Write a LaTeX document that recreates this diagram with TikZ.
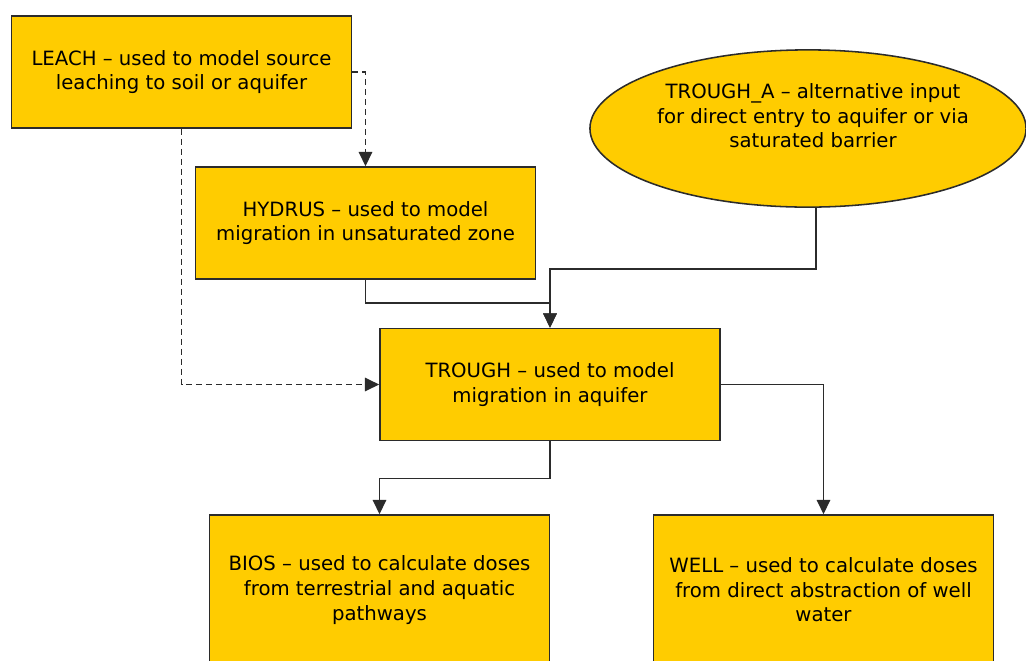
\documentclass[tikz,border=0pt]{standalone}
\usepackage{fontspec}
\setmainfont{DejaVu Sans}
\usetikzlibrary{arrows.meta, positioning, shapes.geometric}
\definecolor{boxyellow}{HTML}{FFCC00}
\definecolor{edgegray}{HTML}{2B2B2B}

\begin{document}
\begin{tikzpicture}[
  x=0.025cm, y=-0.025cm,
  font=\fontsize{14}{17.5}\selectfont,
  >={Triangle[length=3.6mm, width=3.4mm]},
  box/.style={draw=edgegray, line width=1.1pt, fill=boxyellow, align=center,
              minimum width=8.5cm, minimum height=2.8cm, inner sep=0pt},
  tallbox/.style={box, minimum height=3.75cm},
  oval/.style={draw=edgegray, line width=1.1pt, fill=boxyellow, ellipse,
               minimum width=10.9cm, minimum height=3.93cm, inner sep=0pt},
  link/.style={draw=edgegray, line width=1pt, ->},
  dlink/.style={link, dash pattern=on 0.15cm off 0.1cm},
]
  \useasboundingbox (0,0) rectangle (1026,660);

  % --- model boxes -------------------------------------------------
  \node[box] (leach) at (181.5,72) {LEACH -- used to model source\\leaching to soil or aquifer};
  \node[box] (hydrus) at (365.5,223) {HYDRUS -- used to model\\migration in unsaturated zone};
  \node[oval] (troughA) at (808,128.5) {};
  \node[align=center] (troughAtext) at (813,116) {TROUGH\_A -- alternative input\\for direct entry to aquifer or via\\saturated barrier};
  \node[box] (trough) at (550,384.5) {TROUGH -- used to model\\migration in aquifer};
  \node[tallbox] (bios) at (379.5,590) {BIOS -- used to calculate doses\\from terrestrial and aquatic\\pathways};
  \node[tallbox] (well) at (823.5,590) {WELL -- used to calculate doses\\from direct abstraction of well\\water};

  % --- connectors --------------------------------------------------
  \draw[dlink] (leach.east) -| (hydrus.north);
  \draw[dlink] (leach.south) |- (trough.west);
  \draw[link] (hydrus.south) -- ++(0,23) -| (trough.north);
  \draw[link] ([xshift=0.2cm]troughA.south) -- ++(0,61) -| (trough.north);
  \draw[link] (trough.south) -- ++(0,37) -| (bios.north);
  \draw[link] (trough.east) -| (well.north);
\end{tikzpicture}
\end{document}
